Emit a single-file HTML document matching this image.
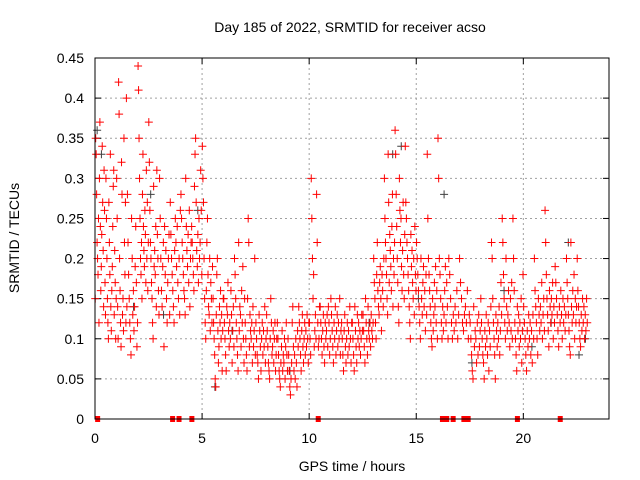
<!DOCTYPE html>
<html><head><meta charset="utf-8"><style>
body{margin:0;background:#fff;}
svg{display:block;font-family:"Liberation Sans",sans-serif;}
</style></head><body>
<svg id="chart" width="640" height="480">
<rect width="640" height="480" fill="#fff"/>
<text x="350" y="32" font-size="14" text-anchor="middle">Day 185 of 2022, SRMTID for receiver acso</text>
<text x="352" y="471" font-size="14" text-anchor="middle">GPS time / hours</text>
<text transform="translate(19,238) rotate(-90)" font-size="14" text-anchor="middle">SRMTID / TECUs</text>
<g id="grid"></g>
<g id="ticks"></g>
<g id="gray"></g>
<g id="red"></g>
<rect x="95" y="58" width="514" height="361" fill="none" stroke="#000" stroke-width="1"/>
</svg>
<script>
const xTicks=[0,5,10,15,20];
const yTicks=[0,0.05,0.1,0.15,0.2,0.25,0.3,0.35,0.4,0.45];
const yTickLabels=["0","0.05","0.1","0.15","0.2","0.25","0.3","0.35","0.4","0.45"];
const binStarts=[0,0.5,1,1.5,2,2.5,3,3.5,4,4.5,5,5.5,6,6.5,7,7.5,8,8.5,9,9.5,10,10.5,11,11.5,12,12.5,13,13.5,14,14.5,15,15.5,16,16.5,17,17.5,18,18.5,19,19.5,20,20.5,21,21.5,22,22.5];
const binValues=[
[0.15,0.35,0.33,0.28,0.22,0.2,0.18,0.25,0.12,0.3,0.37,0.24,0.16,0.19,0.23,0.34,0.27,0.21,0.14,0.31,0.26,0.17,0.13],
[0.3,0.25,0.2,0.15,0.12,0.1,0.27,0.22,0.18,0.33,0.14,0.11,0.16,0.19,0.24,0.29,0.31,0.13,0.21,0.17,0.1,0.15],
[0.3,0.25,0.14,0.1,0.42,0.38,0.2,0.16,0.12,0.09,0.32,0.28,0.13,0.15,0.11,0.35,0.22,0.18,0.27,0.12,0.4,0.14],
[0.28,0.22,0.18,0.15,0.12,0.1,0.08,0.25,0.2,0.13,0.16,0.11,0.14,0.19,0.24,0.17,0.09,0.12],
[0.44,0.41,0.35,0.3,0.25,0.2,0.18,0.22,0.15,0.28,0.33,0.24,0.21,0.19,0.26,0.23,0.17,0.31,0.2,0.27,0.16,0.22],
[0.37,0.32,0.26,0.22,0.2,0.17,0.15,0.12,0.1,0.29,0.19,0.21,0.18,0.24,0.14,0.31,0.23,0.2,0.16,0.13],
[0.3,0.25,0.2,0.16,0.14,0.19,0.22,0.09,0.24,0.18,0.21,0.15,0.12,0.17,0.2,0.23,0.13],
[0.27,0.23,0.2,0.18,0.16,0.14,0.12,0.21,0.25,0.22,0.19,0.24,0.17,0.15,0.2,0.13,0.26],
[0.28,0.25,0.22,0.2,0.18,0.16,0.15,0.13,0.3,0.24,0.21,0.19,0.23,0.17,0.26,0.14,0.2,0.22],
[0.24,0.22,0.2,0.18,0.16,0.29,0.33,0.35,0.27,0.21,0.19,0.23,0.17,0.25,0.2,0.22,0.31,0.26,0.18],
[0.34,0.3,0.27,0.2,0.15,0.12,0.1,0.16,0.22,0.25,0.18,0.14,0.13,0.2,0.11,0.17,0.15,0.12,0.19],
[0.15,0.12,0.1,0.08,0.05,0.04,0.13,0.18,0.2,0.11,0.07,0.09,0.14,0.12,0.16,0.1,0.13,0.06,0.11,0.15],
[0.15,0.12,0.1,0.08,0.06,0.14,0.13,0.17,0.11,0.09,0.12,0.1,0.16,0.13,0.07,0.11,0.14,0.09],
[0.2,0.18,0.15,0.12,0.1,0.08,0.06,0.22,0.11,0.14,0.13,0.09,0.16,0.12,0.19,0.1,0.07,0.15],
[0.12,0.1,0.08,0.06,0.15,0.25,0.22,0.09,0.13,0.11,0.1,0.12,0.07,0.14,0.09,0.11,0.2,0.08],
[0.12,0.1,0.08,0.07,0.05,0.13,0.11,0.09,0.06,0.1,0.12,0.08,0.11,0.09,0.14,0.07,0.1],
[0.13,0.11,0.09,0.07,0.06,0.05,0.1,0.15,0.12,0.08,0.09,0.11,0.07,0.1,0.12,0.06,0.08,0.1],
[0.12,0.1,0.08,0.06,0.05,0.04,0.07,0.09,0.11,0.06,0.08,0.07,0.1,0.05,0.09,0.12,0.08,0.06],
[0.1,0.08,0.06,0.04,0.03,0.05,0.07,0.12,0.14,0.09,0.06,0.08,0.05,0.1,0.07,0.04,0.11,0.09],
[0.14,0.12,0.1,0.08,0.06,0.11,0.13,0.09,0.07,0.1,0.12,0.08,0.11,0.09,0.13,0.1,0.07,0.12],
[0.12,0.1,0.08,0.3,0.25,0.2,0.15,0.18,0.09,0.11,0.13,0.1,0.28,0.22,0.12,0.09,0.1,0.14],
[0.14,0.12,0.1,0.08,0.11,0.13,0.09,0.07,0.12,0.1,0.11,0.13,0.09,0.14,0.12,0.08,0.1],
[0.15,0.13,0.11,0.09,0.07,0.12,0.1,0.14,0.08,0.11,0.13,0.09,0.12,0.1,0.15,0.08,0.11],
[0.12,0.1,0.08,0.06,0.11,0.13,0.09,0.07,0.1,0.12,0.08,0.11,0.09,0.14,0.1,0.07,0.12],
[0.12,0.1,0.08,0.06,0.14,0.11,0.09,0.07,0.13,0.1,0.12,0.09,0.11,0.08,0.1,0.13,0.11],
[0.13,0.11,0.09,0.07,0.15,0.12,0.1,0.08,0.14,0.11,0.1,0.12,0.09,0.13,0.11,0.1,0.12],
[0.2,0.17,0.15,0.12,0.1,0.18,0.22,0.16,0.14,0.13,0.17,0.19,0.15,0.11,0.18,0.16,0.14,0.2],
[0.3,0.25,0.22,0.2,0.18,0.15,0.13,0.33,0.27,0.17,0.23,0.21,0.19,0.16,0.24,0.28,0.14,0.2,0.18,0.22],
[0.36,0.33,0.28,0.24,0.2,0.17,0.14,0.12,0.3,0.26,0.22,0.25,0.19,0.16,0.21,0.27,0.18,0.15,0.23,0.34],
[0.27,0.25,0.22,0.2,0.18,0.16,0.14,0.12,0.1,0.23,0.19,0.21,0.17,0.15,0.2,0.13,0.24,0.18,0.16],
[0.22,0.2,0.18,0.16,0.14,0.12,0.1,0.2,0.15,0.13,0.17,0.19,0.14,0.16,0.11,0.18,0.13],
[0.33,0.25,0.2,0.18,0.16,0.14,0.12,0.1,0.09,0.15,0.11,0.13,0.17,0.14,0.19,0.12,0.16,0.1],
[0.35,0.3,0.2,0.18,0.15,0.12,0.1,0.14,0.11,0.13,0.16,0.19,0.12,0.17,0.14,0.1],
[0.2,0.18,0.15,0.12,0.1,0.13,0.11,0.14,0.12,0.16,0.1,0.13],
[0.2,0.17,0.15,0.12,0.11,0.13,0.14,0.12,0.16,0.1,0.13],
[0.12,0.1,0.08,0.06,0.05,0.14,0.09,0.11,0.1,0.07,0.12,0.08,0.13,0.09,0.11],
[0.15,0.12,0.1,0.08,0.07,0.05,0.11,0.09,0.13,0.1,0.08,0.12,0.06,0.11,0.09,0.14],
[0.22,0.2,0.15,0.12,0.1,0.08,0.05,0.13,0.11,0.09,0.12,0.1,0.14,0.08,0.11,0.17,0.13],
[0.25,0.22,0.18,0.15,0.12,0.1,0.2,0.14,0.11,0.13,0.16,0.12,0.09,0.15,0.11,0.17,0.1],
[0.25,0.2,0.16,0.12,0.1,0.08,0.06,0.14,0.11,0.13,0.09,0.12,0.1,0.15,0.07,0.11,0.18],
[0.14,0.12,0.1,0.08,0.06,0.11,0.09,0.13,0.1,0.12,0.08,0.11,0.07,0.13,0.1],
[0.2,0.16,0.14,0.12,0.1,0.08,0.15,0.13,0.11,0.14,0.12,0.17,0.1,0.13,0.15,0.11],
[0.26,0.22,0.18,0.15,0.13,0.11,0.09,0.16,0.14,0.12,0.15,0.13,0.17,0.1,0.14,0.12,0.19],
[0.17,0.15,0.13,0.11,0.09,0.14,0.12,0.16,0.13,0.1,0.15,0.12,0.14,0.11,0.13],
[0.2,0.17,0.15,0.13,0.11,0.09,0.08,0.22,0.14,0.12,0.16,0.13,0.18,0.1,0.15,0.12,0.14],
[0.2,0.16,0.14,0.12,0.1,0.09,0.13,0.11,0.15,0.12,0.14,0.1,0.13,0.11,0.15,0.12]
];
const grayHours=[0.1,0.3,1.8,2.6,3.2,4.8,5.6,6.4,9.1,12.8,13.9,14.3,15.1,16.3,17.6,19.1,20.4,21.3,22.1,22.6,22.9];
const grayValues=[0.36,0.33,0.14,0.28,0.13,0.26,0.04,0.11,0.06,0.12,0.33,0.34,0.15,0.28,0.07,0.16,0.09,0.12,0.22,0.08,0.1];
const zeroHours=[0.1,3.6,3.9,4.5,10.4,16.2,16.4,16.7,17.2,17.4,19.7,21.7];

const NS='http://www.w3.org/2000/svg';
const X0=95,X1=609,Y0=419,Y1=58,XMAX=24,YMAX=0.45;
function xs(h){return X0+(X1-X0)*h/XMAX;}
function ys(v){return Y0-(Y0-Y1)*v/YMAX;}
function mk(tag,attrs,parent){const e=document.createElementNS(NS,tag);for(const k in attrs)e.setAttribute(k,attrs[k]);parent.appendChild(e);return e;}
const grid=document.getElementById('grid'),ticks=document.getElementById('ticks');
xTicks.forEach(t=>{
  const x=xs(t);
  if(t>0){const g=mk('line',{x1:x,x2:x,y1:Y1,y2:Y0,stroke:'#a0a0a0','stroke-dasharray':'2,3'},grid);
  
  }
  mk('line',{x1:x,x2:x,y1:Y0,y2:Y0-6,stroke:'#000'},ticks);
  mk('line',{x1:x,x2:x,y1:Y1,y2:Y1+6,stroke:'#000'},ticks);
  const l=mk('text',{x:x,y:443,'font-size':14,'text-anchor':'middle'},ticks);
  l.textContent=t;
  
  
});
yTicks.forEach((t,i)=>{
  const y=ys(t);
  if(i>0&&i<yTicks.length-1){const g=mk('line',{x1:X0,x2:X1,y1:y,y2:y,stroke:'#a0a0a0','stroke-dasharray':'2,3'},grid);
  
  }
  mk('line',{x1:X0,x2:X0+6,y1:y,y2:y,stroke:'#000'},ticks);
  mk('line',{x1:X1,x2:X1-6,y1:y,y2:y,stroke:'#000'},ticks);
  const l=mk('text',{x:84,y:y+5,'font-size':14,'text-anchor':'end'},ticks);
  l.textContent=yTickLabels[i];
  
  
});
function plus(parent,x,y,c,name){
  const p=mk('path',{d:`M${x-4},${y}h8M${x},${y-4}v8`,stroke:c,'stroke-width':1},parent);
  
  
}
const gray=document.getElementById('gray'),red=document.getElementById('red');
grayHours.forEach((h,i)=>plus(gray,xs(h),ys(grayValues[i]),'#404040','gray-point'));
binStarts.forEach((b,i)=>{
  const vals=binValues[i];
  vals.forEach((v,j)=>{
    const h=b+0.5*(j+0.5)/vals.length;
    plus(red,xs(h),ys(v),'#ff0000','red-point');
  });
});
zeroHours.forEach(h=>{
  const r=mk('rect',{x:xs(h)-2,y:Y0-3,width:5,height:6,fill:'#ff0000'},red);
  
  
});
</script>
</body></html>
